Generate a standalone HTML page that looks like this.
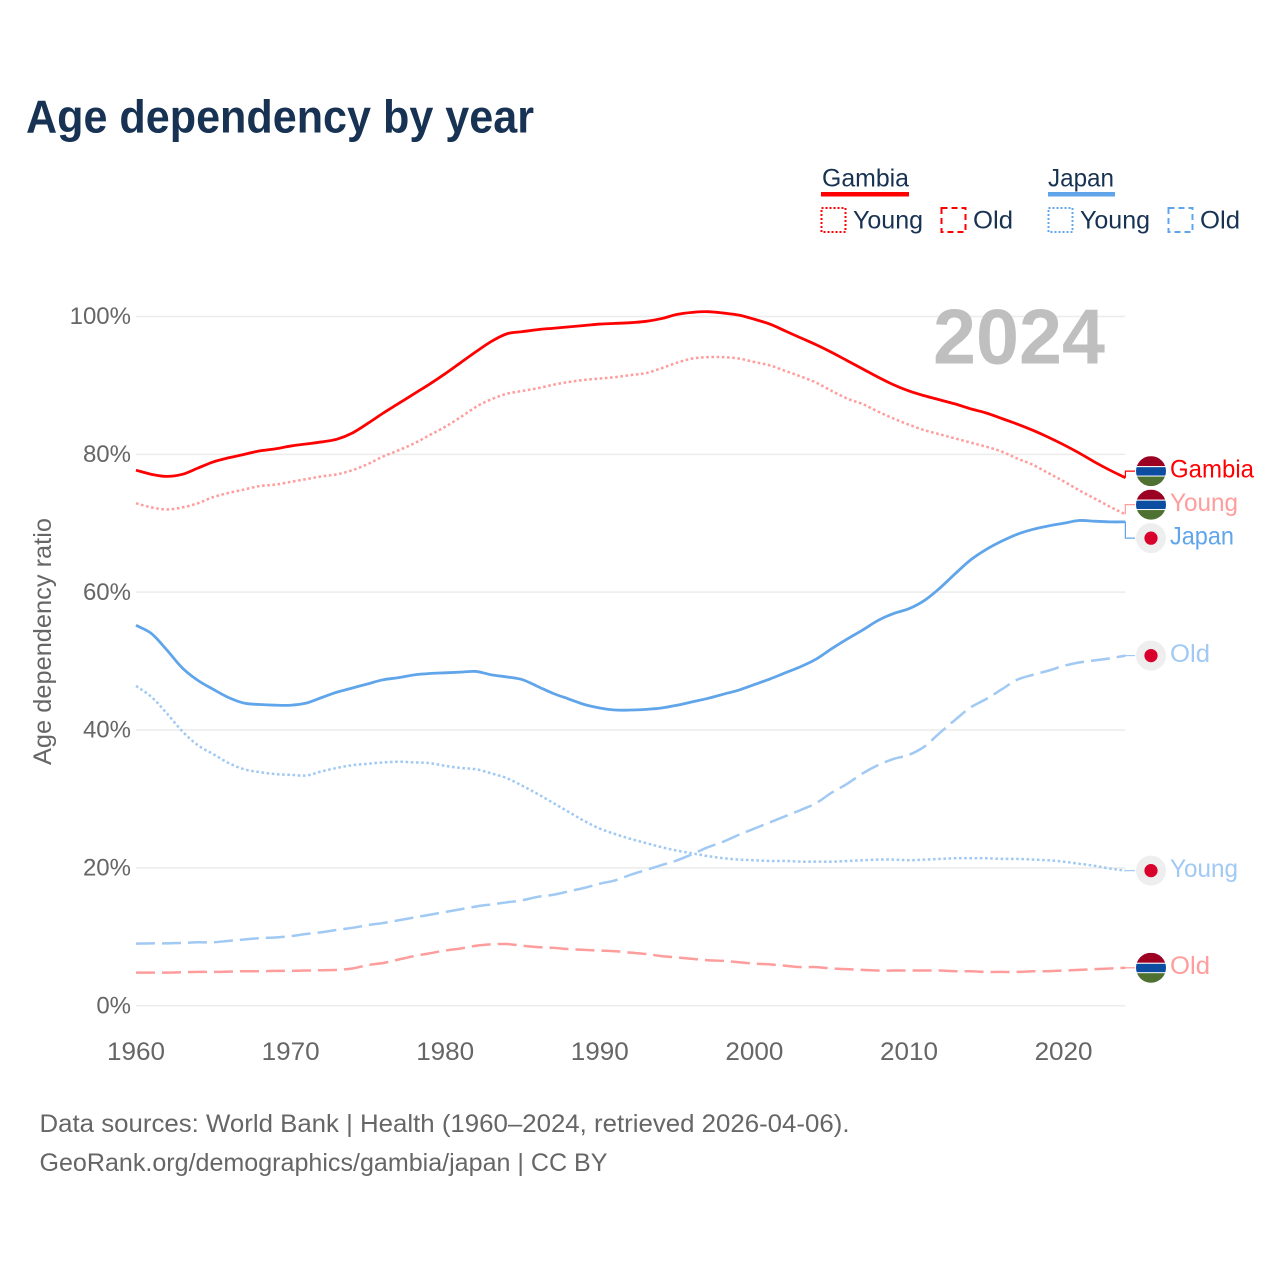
<!DOCTYPE html>
<html lang="en">
<head>
<meta charset="utf-8">
<title>Age dependency by year</title>
<style>
html,body{margin:0;padding:0;background:#fff;}
svg{display:block;font-family:"Liberation Sans",sans-serif;}
</style>
</head>
<body>
<svg id="chart" xmlns="http://www.w3.org/2000/svg" width="1280" height="1280" viewBox="0 0 1280 1280">
  <rect width="1280" height="1280" fill="#ffffff"/>
  <text x="26" y="132.7" font-size="46" font-weight="700" fill="#173252" textLength="508" lengthAdjust="spacingAndGlyphs">Age dependency by year</text>

  <g font-size="25" fill="#173252">
    <text x="822" y="186.5" textLength="87" lengthAdjust="spacingAndGlyphs">Gambia</text>
    <rect x="821" y="192" width="88" height="4.5" fill="#ff0000"/>
    <rect x="821.5" y="208" width="24" height="24" fill="none" stroke="#ff0000" stroke-width="2" stroke-dasharray="2 2"/>
    <text x="853" y="228.5" textLength="70" lengthAdjust="spacingAndGlyphs">Young</text>
    <rect x="941.5" y="208" width="24" height="24" fill="none" stroke="#ff0000" stroke-width="2" stroke-dasharray="6 4"/>
    <text x="973" y="228.5" textLength="40" lengthAdjust="spacingAndGlyphs">Old</text>
    <text x="1048" y="186.5" textLength="66" lengthAdjust="spacingAndGlyphs">Japan</text>
    <rect x="1048" y="192" width="67" height="4.5" fill="#60a5ea"/>
    <rect x="1048.5" y="208" width="24" height="24" fill="none" stroke="#60a5ea" stroke-width="2" stroke-dasharray="2 2"/>
    <text x="1080" y="228.5" textLength="70" lengthAdjust="spacingAndGlyphs">Young</text>
    <rect x="1168.5" y="208" width="24" height="24" fill="none" stroke="#60a5ea" stroke-width="2" stroke-dasharray="6 4"/>
    <text x="1200" y="228.5" textLength="40" lengthAdjust="spacingAndGlyphs">Old</text>
  </g>

  <g id="grid"></g>
  <text x="933" y="363.5" font-size="78" font-weight="700" fill="#bfbfbf" textLength="172" lengthAdjust="spacingAndGlyphs">2024</text>
  <g id="yticks" font-size="24" fill="#666666" text-anchor="end"></g>
  <g id="xticks" font-size="25" fill="#666666" text-anchor="middle"></g>
  <text transform="translate(51 641.5) rotate(-90)" font-size="25" fill="#666666" text-anchor="middle" textLength="247" lengthAdjust="spacingAndGlyphs">Age dependency ratio</text>
  <g id="series"></g>
  <g id="ends"></g>

  <g font-size="25" fill="#666666">
    <text x="39.5" y="1132" textLength="810" lengthAdjust="spacingAndGlyphs">Data sources: World Bank | Health (1960–2024, retrieved 2026-04-06).</text>
    <text x="39.5" y="1171" textLength="568" lengthAdjust="spacingAndGlyphs">GeoRank.org/demographics/gambia/japan | CC BY</text>
  </g>
  <defs>
    <clipPath id="flag-clip"><circle cx="0" cy="0" r="15"/></clipPath>
  </defs>
</svg>
<script>
const startYear = 1960;
const endYear = 2024;
const yTickValues = [0, 20, 40, 60, 80, 100];
const xTickValues = [1960, 1970, 1980, 1990, 2000, 2010, 2020];

const gambiaTotal = [
  77.7,77.1,76.8,77.1,78.0,78.9,79.5,80.0,80.5,80.8,
  81.2,81.5,81.8,82.2,83.1,84.5,86.0,87.4,88.8,90.2,
  91.7,93.3,94.9,96.4,97.5,97.8,98.1,98.3,98.5,98.7,
  98.9,99.0,99.1,99.3,99.7,100.3,100.6,100.7,100.5,100.2,
  99.6,98.9,97.9,96.9,95.9,94.8,93.6,92.4,91.2,90.1,
  89.2,88.5,87.9,87.3,86.6,86.0,85.2,84.4,83.5,82.5,
  81.4,80.2,78.9,77.7,76.6];
const gambiaYoung = [
  72.9,72.3,72.0,72.3,72.9,73.8,74.4,74.9,75.4,75.6,
  76.0,76.4,76.8,77.1,77.7,78.6,79.7,80.6,81.6,82.8,
  84.0,85.4,86.9,88.0,88.8,89.2,89.6,90.1,90.5,90.8,
  91.0,91.2,91.5,91.8,92.5,93.3,93.9,94.1,94.1,93.9,
  93.4,92.9,92.1,91.3,90.4,89.2,88.1,87.3,86.2,85.2,
  84.3,83.5,82.9,82.3,81.7,81.1,80.4,79.4,78.5,77.3,
  76.1,74.8,73.6,72.4,71.3];
const gambiaOld = [
  4.8,4.8,4.8,4.85,4.9,4.9,4.95,5.0,5.0,5.05,
  5.05,5.1,5.15,5.2,5.4,5.9,6.2,6.7,7.2,7.6,
  8.0,8.3,8.7,8.9,8.95,8.7,8.5,8.4,8.2,8.1,
  8.0,7.9,7.7,7.5,7.2,7.0,6.8,6.6,6.5,6.3,
  6.1,6.0,5.8,5.6,5.6,5.4,5.3,5.2,5.1,5.1,
  5.1,5.1,5.1,5.0,5.0,4.9,4.9,4.9,5.0,5.0,
  5.1,5.2,5.3,5.4,5.5];
const japanTotal = [
  55.2,54.0,51.6,49.0,47.2,45.9,44.7,43.9,43.7,43.6,
  43.6,43.9,44.7,45.5,46.1,46.7,47.3,47.6,48.0,48.2,
  48.3,48.4,48.5,48.0,47.7,47.3,46.3,45.3,44.5,43.7,
  43.2,42.9,42.9,43.0,43.2,43.6,44.1,44.6,45.2,45.8,
  46.6,47.4,48.3,49.2,50.3,51.8,53.2,54.5,55.9,56.9,
  57.6,58.8,60.6,62.7,64.7,66.2,67.4,68.4,69.1,69.6,
  70.0,70.4,70.3,70.2,70.2];
const japanYoung = [
  46.4,44.8,42.4,39.8,37.8,36.5,35.2,34.3,33.9,33.6,
  33.5,33.4,34.0,34.5,34.9,35.1,35.3,35.4,35.3,35.2,
  34.8,34.5,34.3,33.7,33.0,31.9,30.7,29.4,28.1,26.8,
  25.7,24.9,24.2,23.6,23.0,22.5,22.1,21.7,21.4,21.2,
  21.1,21.0,21.0,20.9,20.9,20.9,21.0,21.1,21.2,21.2,
  21.1,21.2,21.3,21.4,21.4,21.4,21.3,21.3,21.2,21.1,
  20.9,20.6,20.3,19.9,19.6];
const japanOld = [
  9.0,9.05,9.05,9.1,9.2,9.2,9.4,9.6,9.8,9.9,
  10.1,10.4,10.65,11.0,11.3,11.7,12.0,12.4,12.8,13.2,
  13.6,14.0,14.4,14.7,15.0,15.3,15.8,16.1,16.6,17.1,
  17.7,18.2,19.0,19.7,20.4,21.1,22.0,23.0,23.8,24.8,
  25.7,26.6,27.5,28.4,29.4,30.9,32.2,33.7,34.9,35.8,
  36.4,37.6,39.6,41.5,43.3,44.5,45.9,47.3,48.0,48.6,
  49.3,49.8,50.1,50.4,50.8];

const NS = 'http://www.w3.org/2000/svg';
const plot = { left: 136, right: 1125.4, zero: 1005.7, top: 316.5 };
const x = function (year) { return plot.left + (year - startYear) * (plot.right - plot.left) / (endYear - startYear); };
const y = function (value) { return plot.zero - value * (plot.zero - plot.top) / 100; };

function make(parent, tag, attrs, text) {
  const el = document.createElementNS(NS, tag);
  Object.keys(attrs).forEach(function (k) { el.setAttribute(k, attrs[k]); });
  if (text !== undefined) el.textContent = text;
  parent.appendChild(el);
  return el;
}

/* Smooth path through the data points using midpoint-slope tangents. */
function smoothPath(values) {
  const px = values.map(function (v, i) { return x(startYear + i); });
  const py = values.map(function (v) { return y(v); });
  const n = values.length;
  const slope = function (i) {
    const a = Math.max(i - 1, 0), b = Math.min(i + 1, n - 1);
    return (py[b] - py[a]) / (px[b] - px[a]);
  };
  let d = 'M' + px[0].toFixed(2) + ' ' + py[0].toFixed(2);
  for (let i = 0; i < n - 1; i++) {
    const dx = (px[i + 1] - px[i]) / 3;
    d += 'C' + (px[i] + dx).toFixed(2) + ' ' + (py[i] + slope(i) * dx).toFixed(2) + ' ' +
      (px[i + 1] - dx).toFixed(2) + ' ' + (py[i + 1] - slope(i + 1) * dx).toFixed(2) + ' ' +
      px[i + 1].toFixed(2) + ' ' + py[i + 1].toFixed(2);
  }
  return d;
}

const RED = '#ff0000', PALE_RED = '#ff9c9c', BLUE = '#60a5ea', PALE_BLUE = '#a0c9f3';
const DOT = '2.6 2.6', DASH = '19 7';

const series = [
  { id: 'gambia-total', values: gambiaTotal, color: RED, dash: null, label: 'Gambia', flag: 'gambia', width: 84 },
  { id: 'gambia-young', values: gambiaYoung, color: PALE_RED, dash: DOT, label: 'Young', flag: 'gambia', width: 68 },
  { id: 'gambia-old', values: gambiaOld, color: PALE_RED, dash: DASH, label: 'Old', flag: 'gambia', width: 40 },
  { id: 'japan-total', values: japanTotal, color: BLUE, dash: null, label: 'Japan', flag: 'japan', width: 64 },
  { id: 'japan-young', values: japanYoung, color: PALE_BLUE, dash: DOT, label: 'Young', flag: 'japan', width: 68 },
  { id: 'japan-old', values: japanOld, color: PALE_BLUE, dash: DASH, label: 'Old', flag: 'japan', width: 40 }
];

const gridGroup = document.getElementById('grid');
const yTickGroup = document.getElementById('yticks');
yTickValues.forEach(function (v) {
  const line = make(gridGroup, 'line', { x1: plot.left, x2: plot.right, y1: y(v), y2: y(v), stroke: '#ececec', 'stroke-width': 1.5 });
  
  
  const label = make(yTickGroup, 'text', { x: 131, y: y(v) + 7.7 }, v + '%');
  
  
});

const xTickGroup = document.getElementById('xticks');
xTickValues.forEach(function (year) {
  const label = make(xTickGroup, 'text', { x: x(year), y: 1060, textLength: 58, lengthAdjust: 'spacingAndGlyphs' }, String(year));
  
  
});

const seriesGroup = document.getElementById('series');
series.forEach(function (s) {
  const attrs = { d: smoothPath(s.values), fill: 'none', stroke: s.color, 'stroke-width': s.dash ? 2.5 : 2.8, 'stroke-linejoin': 'round' };
  if (s.dash) attrs['stroke-dasharray'] = s.dash;
  const line = make(seriesGroup, 'path', attrs);
  
  
});

/* End labels: push overlapping labels apart around each cluster's centre. */
const MIN_GAP = 33.5;
let clusters = series
  .map(function (s) { return { items: [s], mid: y(s.values[s.values.length - 1]) }; })
  .sort(function (a, b) { return a.mid - b.mid; });
let merged = true;
while (merged) {
  merged = false;
  for (let i = 0; i + 1 < clusters.length; i++) {
    const a = clusters[i], b = clusters[i + 1];
    const aEnd = a.mid + (a.items.length - 1) * MIN_GAP / 2;
    const bStart = b.mid - (b.items.length - 1) * MIN_GAP / 2;
    if (bStart - aEnd < MIN_GAP) {
      const items = a.items.concat(b.items);
      const mid = items.reduce(function (t, s) { return t + y(s.values[s.values.length - 1]); }, 0) / items.length;
      clusters.splice(i, 2, { items: items, mid: mid });
      merged = true;
      break;
    }
  }
}

const endGroup = document.getElementById('ends');
clusters.forEach(function (c) {
  c.items.forEach(function (s, idx) {
    const labelY = c.mid + (idx - (c.items.length - 1) / 2) * MIN_GAP;
    const endY = y(s.values[s.values.length - 1]);

    const leader = make(endGroup, 'path', {
      d: 'M' + plot.right + ' ' + endY.toFixed(2) + 'V' + labelY.toFixed(2) + 'H1135',
      fill: 'none', stroke: s.color, 'stroke-width': 1.2
    });
    
    

    const flag = make(endGroup, 'g', { transform: 'translate(1151 ' + labelY.toFixed(2) + ')' });
    
    
    if (s.flag === 'gambia') {
      const inner = make(flag, 'g', { 'clip-path': 'url(#flag-clip)' });
      make(inner, 'rect', { x: -15, y: -15, width: 30, height: 10, fill: '#9c0022' });
      make(inner, 'rect', { x: -15, y: -5, width: 30, height: 10, fill: '#ffffff' });
      make(inner, 'rect', { x: -15, y: -4, width: 30, height: 8.4, fill: '#0c4da2' });
      make(inner, 'rect', { x: -15, y: 5.4, width: 30, height: 10, fill: '#4e7030' });
    } else {
      make(flag, 'circle', { r: 15, fill: '#eeeeee' });
      make(flag, 'circle', { r: 6.6, fill: '#d9002c' });
    }

    const label = make(endGroup, 'text', {
      x: 1170, y: labelY + 6.2, 'font-size': 25, fill: s.color,
      textLength: s.width, lengthAdjust: 'spacingAndGlyphs'
    }, s.label);
    
    
  });
});
</script>
</body>
</html>
